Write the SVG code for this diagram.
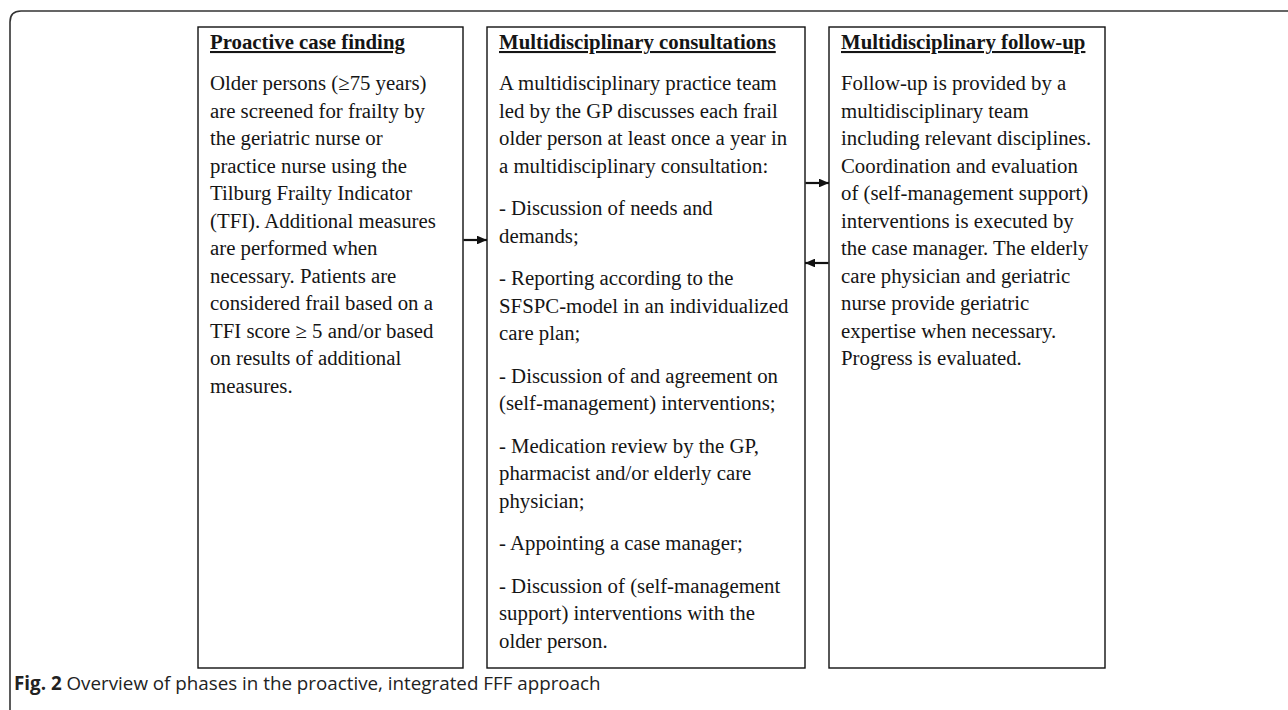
<svg xmlns="http://www.w3.org/2000/svg" width="1288" height="710" viewBox="0 0 1288 710">
<style>
.box{fill:#fff;stroke:#111;stroke-width:1.4}
.t{font-family:"Liberation Serif","Times New Roman",serif;font-size:20.8px;fill:#151515}
.h{font-weight:bold;text-decoration:underline}
.conn{stroke:#111;stroke-width:2.2;fill:none}
.cap{font-family:"Open Sans","Noto Sans",sans-serif;font-size:18.8px;fill:#222}
</style>
<defs>
<marker id="ah" viewBox="0 0 10 10" refX="10" refY="5" markerWidth="4.6" markerHeight="4" orient="auto" markerUnits="strokeWidth" preserveAspectRatio="none">
<path d="M0,0 L10,5 L0,10 z" fill="#111"/>
</marker>
</defs>
<rect width="1288" height="710" fill="#fff"/>
<path d="M1288,11 L21,11 Q10,11 10,22 L10,710" fill="none" stroke="#333" stroke-width="1.6"/>

<g id="node-case-finding">
<rect class="box" x="198" y="27" width="265" height="641"/>
<text class="t h" x="210" y="49">Proactive case finding</text>
<text class="t" x="210" y="90">Older persons (≥75 years)</text>
<text class="t" x="210" y="117.5">are screened for frailty by</text>
<text class="t" x="210" y="145">the geriatric nurse or</text>
<text class="t" x="210" y="172.5">practice nurse using the</text>
<text class="t" x="210" y="200">Tilburg Frailty Indicator</text>
<text class="t" x="210" y="227.5">(TFI). Additional measures</text>
<text class="t" x="210" y="255">are performed when</text>
<text class="t" x="210" y="282.5">necessary. Patients are</text>
<text class="t" x="210" y="310">considered frail based on a</text>
<text class="t" x="210" y="337.5">TFI score ≥ 5 and/or based</text>
<text class="t" x="210" y="365">on results of additional</text>
<text class="t" x="210" y="392.5">measures.</text>
</g>

<g id="node-consultations">
<rect class="box" x="487" y="27" width="318" height="641"/>
<text class="t h" x="499" y="49">Multidisciplinary consultations</text>
<text class="t" x="499" y="90">A multidisciplinary practice team</text>
<text class="t" x="499" y="117.5">led by the GP discusses each frail</text>
<text class="t" x="499" y="145">older person at least once a year in</text>
<text class="t" x="499" y="172.5">a multidisciplinary consultation:</text>
<text class="t" x="499" y="215">- Discussion of needs and</text>
<text class="t" x="499" y="242.5">demands;</text>
<text class="t" x="499" y="285">- Reporting according to the</text>
<text class="t" x="499" y="312.5">SFSPC-model in an individualized</text>
<text class="t" x="499" y="340">care plan;</text>
<text class="t" x="499" y="382.5">- Discussion of and agreement on</text>
<text class="t" x="499" y="410">(self-management) interventions;</text>
<text class="t" x="499" y="452.5">- Medication review by the GP,</text>
<text class="t" x="499" y="480">pharmacist and/or elderly care</text>
<text class="t" x="499" y="507.5">physician;</text>
<text class="t" x="499" y="550">- Appointing a case manager;</text>
<text class="t" x="499" y="592.5">- Discussion of (self-management</text>
<text class="t" x="499" y="620">support) interventions with the</text>
<text class="t" x="499" y="647.5">older person.</text>
</g>

<g id="node-follow-up">
<rect class="box" x="829" y="27" width="276" height="641"/>
<text class="t h" x="841" y="49">Multidisciplinary follow-up</text>
<text class="t" x="841" y="90">Follow-up is provided by a</text>
<text class="t" x="841" y="117.5">multidisciplinary team</text>
<text class="t" x="841" y="145">including relevant disciplines.</text>
<text class="t" x="841" y="172.5">Coordination and evaluation</text>
<text class="t" x="841" y="200">of (self-management support)</text>
<text class="t" x="841" y="227.5">interventions is executed by</text>
<text class="t" x="841" y="255">the case manager. The elderly</text>
<text class="t" x="841" y="282.5">care physician and geriatric</text>
<text class="t" x="841" y="310">nurse provide geriatric</text>
<text class="t" x="841" y="337.5">expertise when necessary.</text>
<text class="t" x="841" y="365">Progress is evaluated.</text>
</g>

<g id="connectors">
<line class="conn" x1="463.5" y1="240" x2="487" y2="240" marker-end="url(#ah)"/>
<line class="conn" x1="805.5" y1="183" x2="829" y2="183" marker-end="url(#ah)"/>
<line class="conn" x1="828.5" y1="263" x2="805" y2="263" marker-end="url(#ah)"/>
</g>

<text class="cap" x="14" y="690"><tspan font-weight="bold">Fig. 2</tspan> Overview of phases in the proactive, integrated FFF approach</text>
</svg>
